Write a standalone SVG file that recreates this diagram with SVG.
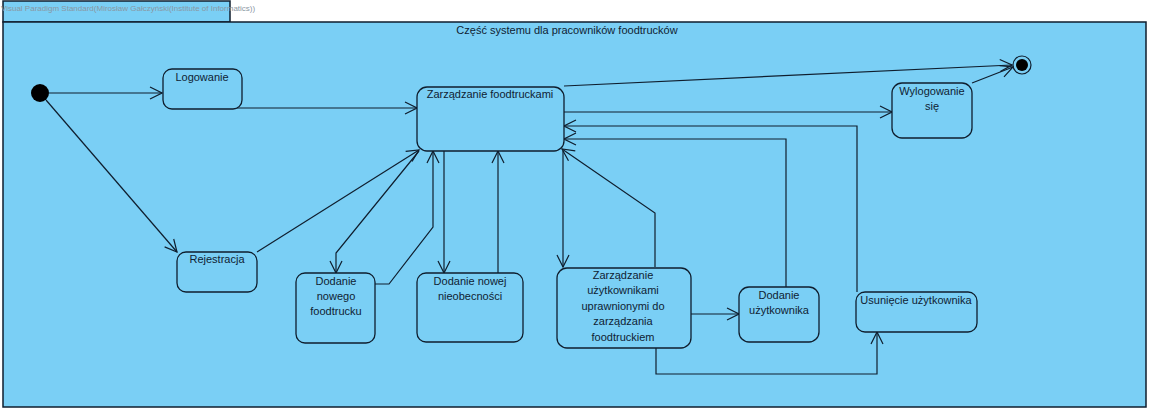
<svg xmlns="http://www.w3.org/2000/svg" width="1150" height="412" viewBox="0 0 1150 412">
<style>
.frame{fill:#7ACFF5;stroke:#0F1E2E;stroke-width:1.5}
.st{fill:#7ACFF5;stroke:#0F1E2E;stroke-width:1.3}
.t{font-family:"Liberation Sans",Arial,sans-serif;font-size:11px;fill:#0F2233;text-anchor:middle}
.c{fill:none;stroke:#0F1E2E;stroke-width:1.2}
.wm{font-family:"Liberation Sans",Arial,sans-serif;font-size:8px;fill:#8a97a3}
</style>
<defs>
<marker id="a" viewBox="0 0 14 14" refX="13" refY="7" markerWidth="14" markerHeight="14" markerUnits="userSpaceOnUse" orient="auto">
<path d="M1,1 L13,7 L1,13" fill="none" stroke="#0F1E2E" stroke-width="1.2"/>
</marker>
</defs>
<g id="container">
<rect class="frame" x="3" y="1" width="227" height="21"/>
<rect class="frame" x="3" y="22" width="1143" height="385"/>
<text class="wm" x="1" y="11">Visual Paradigm Standard(Mirosław Gałczyński(Institute of Informatics))</text>
<text class="t" x="567" y="34">Część systemu dla pracowników foodtrucków</text>
</g>
<g id="connectors">
<line class="c" x1="49" y1="93" x2="162" y2="93" marker-end="url(#a)"/>
<line class="c" x1="46" y1="100" x2="177" y2="252" marker-end="url(#a)"/>
<polyline class="c" points="237,108 417,108" marker-end="url(#a)"/>
<line class="c" x1="257" y1="252" x2="419" y2="150" marker-end="url(#a)"/>
<polyline class="c" points="419,151 336,253 336,273" marker-end="url(#a)"/>
<polyline class="c" points="375,284 389,284 433,227 433,151" marker-end="url(#a)"/>
<line class="c" x1="444" y1="151" x2="444" y2="273" marker-end="url(#a)"/>
<line class="c" x1="498" y1="273" x2="498" y2="151" marker-end="url(#a)"/>
<line class="c" x1="564" y1="86" x2="1012" y2="65" marker-end="url(#a)"/>
<line class="c" x1="972" y1="83" x2="1013" y2="67" marker-end="url(#a)"/>
<line class="c" x1="564" y1="112" x2="892" y2="112" marker-end="url(#a)"/>
<polyline class="c" points="857,292 857,126 564,126" marker-end="url(#a)"/>
<polyline class="c" points="786,287 786,139 564,139" marker-end="url(#a)"/>
<polyline class="c" points="655,267 655,213 562,149" marker-end="url(#a)"/>
<line class="c" x1="563" y1="151" x2="563" y2="267" marker-end="url(#a)"/>
<line class="c" x1="691" y1="314" x2="739" y2="314" marker-end="url(#a)"/>
<polyline class="c" points="656,348 656,374 877,374 877,332" marker-end="url(#a)"/>
</g>
<g id="initial"><circle cx="40" cy="93" r="9" fill="#000"/></g>
<g id="final">
<circle cx="1022" cy="65" r="9" fill="none" stroke="#0F1E2E" stroke-width="1.2"/>
<circle cx="1022" cy="65" r="6" fill="#000"/>
</g>
<g id="logowanie">
<rect class="st" x="163" y="69" width="79" height="40" rx="9"/>
<text class="t" x="202" y="81">Logowanie</text>
</g>
<g id="zarzadzanie">
<rect class="st" x="417" y="87" width="147" height="64" rx="10"/>
<text class="t" x="490" y="98">Zarządzanie foodtruckami</text>
</g>
<g id="wylogowanie">
<rect class="st" x="892" y="83" width="80" height="55" rx="10"/>
<text class="t" x="932" y="95">Wylogowanie</text>
<text class="t" x="932" y="110">się</text>
</g>
<g id="rejestracja">
<rect class="st" x="177" y="252" width="80" height="40" rx="9"/>
<text class="t" x="217" y="263">Rejestracja</text>
</g>
<g id="dodanieFoodtrucku">
<rect class="st" x="296" y="273" width="79" height="70" rx="9"/>
<text class="t" x="336" y="285">Dodanie</text>
<text class="t" x="336" y="300">nowego</text>
<text class="t" x="336" y="315">foodtrucku</text>
</g>
<g id="dodanieNieobecnosci">
<rect class="st" x="417" y="273" width="106" height="69" rx="9"/>
<text class="t" x="470" y="285">Dodanie nowej</text>
<text class="t" x="470" y="300">nieobecności</text>
</g>
<g id="zarzadzanieUzytkownikami">
<rect class="st" x="557" y="268" width="134" height="80" rx="10"/>
<text class="t" x="623" y="279">Zarządzanie</text>
<text class="t" x="623" y="294">użytkownikami</text>
<text class="t" x="623" y="310">uprawnionymi do</text>
<text class="t" x="623" y="325">zarządzania</text>
<text class="t" x="623" y="341">foodtruckiem</text>
</g>
<g id="dodanieUzytkownika">
<rect class="st" x="739" y="287" width="80" height="55" rx="10"/>
<text class="t" x="779" y="299">Dodanie</text>
<text class="t" x="779" y="314">użytkownika</text>
</g>
<g id="usuniecie">
<rect class="st" x="856" y="292" width="121" height="40" rx="9"/>
<text class="t" x="916" y="304">Usunięcie użytkownika</text>
</g>
</svg>
